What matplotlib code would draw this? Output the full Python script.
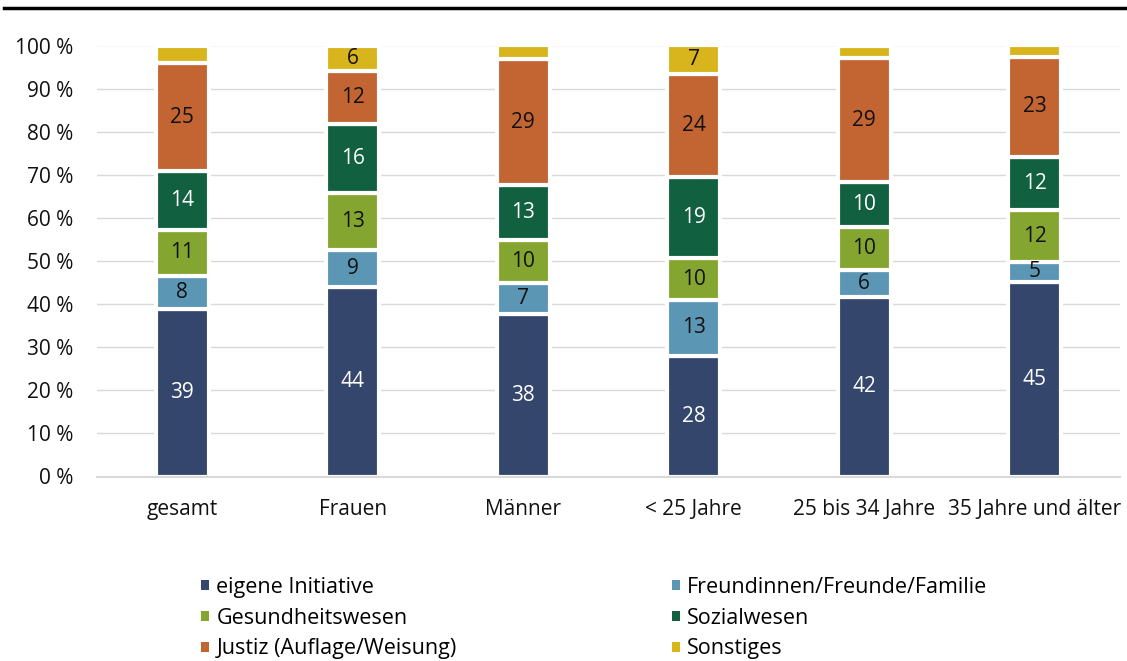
import matplotlib
matplotlib.use("Agg")
import matplotlib.pyplot as plt
from matplotlib.patches import Patch
from matplotlib.lines import Line2D
import numpy as np

plt.rcParams['font.family'] = ['Open Sans', 'DejaVu Sans']

categories = ["gesamt", "Frauen", "Männer", "< 25 Jahre", "25 bis 34 Jahre", "35 Jahre und älter"]
series_names = ["eigene Initiative", "Freundinnen/Freunde/Familie", "Gesundheitswesen",
                "Sozialwesen", "Justiz (Auflage/Weisung)", "Sonstiges"]
eigene = [38.9, 44.0, 37.6, 28.0, 41.6, 45.1]
freunde = [7.7, 8.6, 7.2, 13.0, 6.3, 4.7]
gesundheit = [10.6, 13.2, 10.0, 9.6, 10.0, 12.0]
sozial = [13.6, 16.1, 12.8, 18.9, 10.4, 12.4]
justiz = [25.2, 12.1, 29.2, 23.9, 28.8, 23.1]
sonstiges = [4.0, 6.0, 3.2, 6.6, 2.9, 2.7]
yticks = [0, 10, 20, 30, 40, 50, 60, 70, 80, 90, 100]
min_label_value = 4.5  # small segments carry no label

colors = ["#34466C", "#5B96B4", "#84A52F", "#116040", "#C36433", "#D8B51C"]
label_colors = ["white", "#111111", "#111111", "white", "#111111", "#111111"]

data = np.array([eigene, freunde, gesundheit, sozial, justiz, sonstiges], dtype=float)

W, H = 1127, 661
fig = plt.figure(figsize=(W / 100, H / 100), dpi=100)
ax = fig.add_axes([97 / W, 1 - 476.5 / H, 1023 / W, 431 / H])

FS = 15
x = np.arange(len(categories))
bottom = np.zeros(len(categories))
for i in range(len(series_names)):
    ax.bar(x, data[i], 0.31, bottom=bottom, color=colors[i], edgecolor="white",
           linewidth=3, zorder=3)
    for j in range(len(categories)):
        if data[i][j] >= min_label_value:
            ax.text(x[j], bottom[j] + data[i][j] / 2, f"{data[i][j]:.0f}",
                    ha="center", va="center", fontsize=FS, color=label_colors[i], zorder=4)
    bottom += data[i]

ax.set_xlim(-0.5, len(categories) - 0.5)
ax.set_ylim(0, 100)
ax.set_yticks(yticks)
ax.set_yticklabels([f"{v} %" for v in yticks])
ax.set_xticks(x)
ax.set_xticklabels(categories)
ax.tick_params(axis="both", length=0, labelsize=FS, colors="#111111")
ax.tick_params(axis="y", pad=17)
ax.tick_params(axis="x", pad=16)
ax.yaxis.grid(True, color="#D9D9D9", linewidth=1, zorder=0)
ax.set_axisbelow(True)
for s in ["top", "right", "left"]:
    ax.spines[s].set_visible(False)
ax.spines["bottom"].set_color("#D9D9D9")
ax.spines["bottom"].set_linewidth(1.5)
ax.spines["bottom"].set_zorder(5)

# top rule
fig.add_artist(Line2D([4 / W, 1.0], [1 - 8 / H, 1 - 8 / H], color="black", linewidth=2.5))

handles = [Patch(facecolor=c, edgecolor="none") for c in colors]
leg_kw = dict(frameon=False, fontsize=15.5, handlelength=0.36, handleheight=0.36,
              handletextpad=0.35, labelspacing=0.45, borderpad=0, borderaxespad=0)
fig.legend([handles[0], handles[2], handles[4]],
           [series_names[0], series_names[2], series_names[4]],
           loc="upper left", bbox_to_anchor=(201 / W, 1 - 577 / H), **leg_kw)
fig.legend([handles[1], handles[3], handles[5]],
           [series_names[1], series_names[3], series_names[5]],
           loc="upper left", bbox_to_anchor=(672 / W, 1 - 577 / H), **leg_kw)

fig.savefig("out.png", dpi=100)
